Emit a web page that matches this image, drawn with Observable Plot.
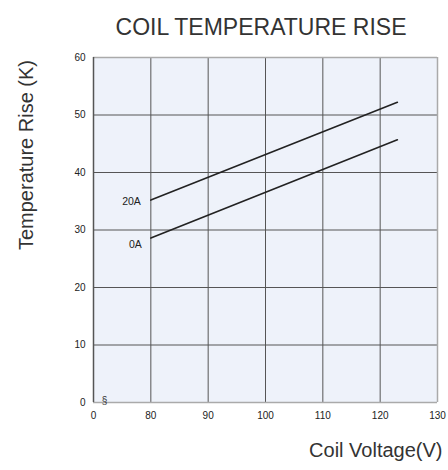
<!DOCTYPE html>
<html>
<head>
<meta charset="utf-8">
<script src="https://cdn.jsdelivr.net/npm/d3@7"></script>
<script src="https://cdn.jsdelivr.net/npm/@observablehq/plot@0.6"></script>
<style>
  body { margin: 0; background: #fff; }
  svg { font-family: "Liberation Sans", Arial, sans-serif; }
</style>
</head>
<body>
<div id="chart"></div>
<script>
const title = "COIL TEMPERATURE RISE";
const xLabel = "Coil Voltage(V)";
const yLabel = "Temperature Rise (K)";
const xTicks = [70, 80, 90, 100, 110, 120, 130];
const xTickLabels = ["0", "80", "90", "100", "110", "120", "130"];
const yTicks = [0, 10, 20, 30, 40, 50, 60];
const xGrid = [80, 90, 100, 110, 120];
const yGrid = [10, 20, 30, 40, 50];
const seriesNames = ["20A", "0A"];
const voltage = [80, 123];
const rise20A = [35.2, 52.2];
const rise0A = [28.6, 45.7];

const data = [];
voltage.forEach((v, i) => data.push({series: "20A", v, t: rise20A[i]}));
voltage.forEach((v, i) => data.push({series: "0A", v, t: rise0A[i]}));
const start20 = data.filter(d => d.series === "20A").slice(0, 1);
const start0 = data.filter(d => d.series === "0A").slice(0, 1);
const fmt = (d) => xTickLabels[xTicks.indexOf(d)];

const chart = Plot.plot({
  width: 448,
  height: 470,
  marginTop: 57,
  marginLeft: 93,
  marginRight: 11,
  marginBottom: 68,
  style: {fontFamily: "Liberation Sans, Arial, sans-serif", background: "#fff"},
  x: {domain: [70, 130], ticks: xTicks, tickFormat: fmt, label: null},
  y: {domain: [0, 60], ticks: yTicks, label: null},
  marks: [
    Plot.frame({fill: "#eef2fa", stroke: null}),
    Plot.ruleX(xGrid, {stroke: "#555", strokeWidth: 1}),
    Plot.ruleY(yGrid, {stroke: "#555", strokeWidth: 1}),
    Plot.ruleY([60], {stroke: "#aaa", strokeWidth: 1.5}),
    Plot.ruleX([130], {stroke: "#aaa", strokeWidth: 1.5}),
    Plot.ruleY([0], {stroke: "#aaa", strokeWidth: 1.5}),
    Plot.ruleX([70], {stroke: "#555", strokeWidth: 1.5}),
    Plot.axisX({ticks: xTicks, tickFormat: fmt, tickSize: 0, tickPadding: 9, fontSize: 10, fill: "#222", label: null}),
    Plot.axisY({ticks: yTicks, tickSize: 0, tickPadding: 8, fontSize: 10, fill: "#222", label: null}),
    Plot.line(data, {x: "v", y: "t", z: "series", stroke: "#222", strokeWidth: 1.6}),
    Plot.text(start20, {x: "v", y: "t", text: "series", textAnchor: "end", dx: -10, dy: 2, fontSize: 10.5, fill: "#222"}),
    Plot.text(start0, {x: "v", y: "t", text: "series", textAnchor: "end", dx: -9, dy: 7, fontSize: 10.5, fill: "#222"}),
    Plot.text([70], {x: (d) => d, y: 0, text: () => "§", dx: 11, dy: -2, fontSize: 10, fill: "#333"}),
    Plot.text([title], {frameAnchor: "top", text: (d) => d, dy: -39, dx: -4.5, fontSize: 23, fill: "#333"}),
    Plot.text([yLabel], {frameAnchor: "left", textAnchor: "middle", text: (d) => d, rotate: -90, dx: -67, dy: -75, fontSize: 20, fill: "#333"}),
    Plot.text([xLabel], {frameAnchor: "bottom-right", text: (d) => d, textAnchor: "end", dx: 5, dy: 54, fontSize: 20, fill: "#333"})
  ]
});
document.getElementById("chart").appendChild(chart);
</script>
</body>
</html>
